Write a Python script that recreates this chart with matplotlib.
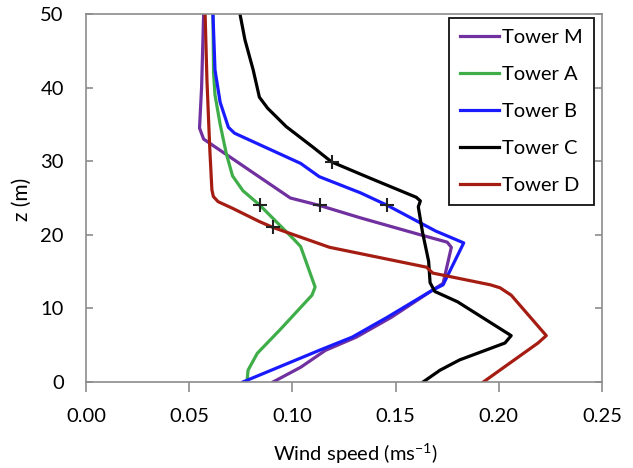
import matplotlib
matplotlib.use('Agg')
import matplotlib.pyplot as plt
import numpy as np

plt.rcParams['font.family'] = ['Lato', 'DejaVu Sans']
plt.rcParams['mathtext.fontset'] = 'custom'
plt.rcParams['mathtext.rm'] = 'Lato'
plt.rcParams['mathtext.default'] = 'rm'

# Heights (m) and wind speeds (m/s)
z_m = [50, 40, 34.5, 33, 25, 24, 22.3, 20, 19, 18.3, 13.4, 12.5, 8.8, 6.1, 4.3, 2.0, 0]
ws_m = [0.057, 0.056, 0.055, 0.057, 0.099, 0.113, 0.133, 0.162, 0.175, 0.177, 0.173, 0.168, 0.148, 0.131, 0.116, 0.104, 0.0906]

z_a = [50, 42, 39, 35, 31, 28, 26, 24, 19.3, 18.4, 12.9, 11.8, 7.1, 3.9, 1.6, 0]
ws_a = [0.0615, 0.0618, 0.0625, 0.065, 0.068, 0.071, 0.076, 0.0843, 0.101, 0.104, 0.111, 0.1095, 0.094, 0.083, 0.0785, 0.078]

z_b = [50, 42.4, 38, 34.6, 33.8, 29.7, 27.9, 25.7, 24.0, 20.5, 18.9, 13.2, 12.5, 8.8, 6.1, 4.3, 0]
ws_b = [0.0615, 0.0625, 0.065, 0.069, 0.072, 0.104, 0.113, 0.133, 0.146, 0.1695, 0.183, 0.173, 0.168, 0.146, 0.129, 0.113, 0.076]

z_c = [50, 46.5, 42.4, 38.7, 37.2, 34.7, 31.9, 29.9, 27.7, 25.1, 24.6, 23.8, 20.4, 16.4, 13.5, 12.3, 10.9, 6.3, 5.3, 3.0, 1.6, 0]
ws_c = [0.0746, 0.077, 0.081, 0.084, 0.088, 0.097, 0.110, 0.119, 0.1376, 0.160, 0.162, 0.161, 0.163, 0.166, 0.1667, 0.169, 0.180, 0.206, 0.203, 0.181, 0.1715, 0.1633]

z_d = [50, 41, 31.5, 26.1, 25.2, 24.5, 23.6, 21.8, 21.0, 18.3, 15.6, 14.8, 13.2, 12.8, 11.8, 6.3, 5.3, 0]
ws_d = [0.0577, 0.0586, 0.060, 0.061, 0.0617, 0.064, 0.071, 0.084, 0.0906, 0.118, 0.165, 0.168, 0.196, 0.2006, 0.206, 0.223, 0.219, 0.1925]

# Cross markers
mark_ws = [0.119, 0.0843, 0.1134, 0.146, 0.0906]
mark_z = [29.9, 24.0, 24.0, 24.0, 21.0]

series = [
    ('Tower M', ws_m, z_m, '#7030a0'),
    ('Tower A', ws_a, z_a, '#3fae49'),
    ('Tower B', ws_b, z_b, '#1a1aff'),
    ('Tower C', ws_c, z_c, '#000000'),
    ('Tower D', ws_d, z_d, '#a51d12'),
]

fig = plt.figure(figsize=(6.33, 4.68), dpi=100)
ax = fig.add_axes([86 / 633, 1 - 382 / 468, 516 / 633, 368 / 468])

for name, ws, z, col in series:
    ax.plot(ws, z, color=col, lw=2.3, label=name, solid_joinstyle='round')

ax.plot(mark_ws, mark_z, ls='none', marker='+', color='#222222', ms=10, mew=1.5)

ax.set_xlim(0, 0.25)
ax.set_ylim(0, 50)
ax.set_xticks(np.arange(0, 0.251, 0.05))
ax.set_xticklabels(['%.2f' % t for t in np.arange(0, 0.251, 0.05)])
ax.set_yticks(np.arange(0, 51, 10))

for s in ax.spines.values():
    s.set_color('#8c8c8c')
    s.set_linewidth(1.2)

ax.tick_params(axis='x', direction='out', length=7, width=1.2, color='#8c8c8c', labelsize=14.5, pad=12)
ax.tick_params(axis='y', direction='in', length=5, width=1.2, color='#8c8c8c', labelsize=14.5,
               right=True, pad=16)

ax.set_xlabel('Wind speed (ms$^{-1}$)', fontsize=14.5)
ax.xaxis.set_label_coords(0.523, -0.163)
ax.set_ylabel('z (m)', fontsize=15)
ax.yaxis.set_label_coords(-0.105, 0.495)

leg = ax.legend(loc='upper right', bbox_to_anchor=(0.984, 0.989), borderaxespad=0,
                fontsize=14.5, handlelength=1.95, handletextpad=0.15, labelspacing=0.98,
                fancybox=False, framealpha=1, borderpad=0.55)
leg.get_frame().set_edgecolor('#111111')
leg.get_frame().set_linewidth(1.3)

fig.savefig('out.png', dpi=100)
